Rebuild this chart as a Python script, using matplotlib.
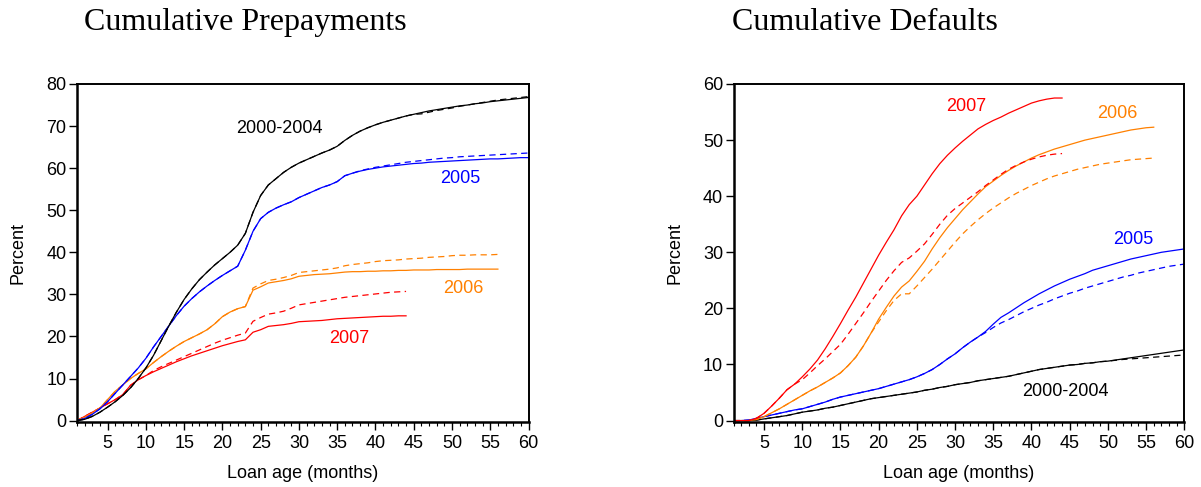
import matplotlib
matplotlib.use('Agg')
import matplotlib.pyplot as plt
import matplotlib.ticker as mticker
import numpy as np

months = np.arange(1, 61)

# ---- Cumulative prepayments (percent) ----
pre_0004 = [0.0, 0.3, 1.0, 2.0, 3.2, 4.5, 6.0, 7.8, 10.0, 12.5,
            15.5, 19.0, 22.5, 25.8, 28.8, 31.3, 33.5, 35.3, 37.0, 38.5,
            40.0, 41.7, 44.5, 49.5, 53.5, 56.0, 57.5, 59.0, 60.2, 61.2,
            62.0, 62.8, 63.6, 64.3, 65.2, 66.6, 67.8, 68.8, 69.6, 70.3,
            70.9, 71.4, 71.9, 72.4, 72.8, 73.2, 73.6, 73.9, 74.2, 74.5,
            74.8, 75.0, 75.3, 75.5, 75.8, 76.0, 76.2, 76.4, 76.6, 76.8]
pre_0004_d = pre_0004[:45] + [72.9, 73.3, 73.7, 74.0, 74.3, 74.7, 75.0,
                              75.3, 75.6, 75.9, 76.2, 76.4, 76.6, 76.8, 77.0]
pre_2005 = [0.0, 0.5, 1.5, 2.8, 4.5, 6.5, 8.5, 10.5, 12.5, 14.8,
            17.5, 20.0, 22.5, 25.0, 27.2, 29.0, 30.6, 32.0, 33.3, 34.5,
            35.6, 36.7, 40.5, 45.0, 48.0, 49.5, 50.5, 51.3, 52.0, 53.0,
            53.8, 54.6, 55.4, 56.0, 56.8, 58.2, 58.8, 59.3, 59.7, 60.0,
            60.3, 60.5, 60.7, 60.9, 61.1, 61.2, 61.4, 61.5, 61.6, 61.7,
            61.8, 61.9, 62.0, 62.1, 62.2, 62.2, 62.3, 62.4, 62.5, 62.5]
pre_2005_d = pre_2005[:37] + [59.4, 59.8, 60.2, 60.5, 60.8, 61.1, 61.4,
                              61.6, 61.8, 62.0, 62.2, 62.4, 62.5, 62.7, 62.8,
                              62.9, 63.0, 63.1, 63.2, 63.3, 63.4, 63.5, 63.6]
pre_2006 = [0.0, 0.8, 1.8, 3.0, 5.0, 7.0, 8.5, 10.0, 11.2, 12.3,
            13.8, 15.2, 16.5, 17.7, 18.8, 19.7, 20.6, 21.6, 23.0, 24.7,
            25.8, 26.6, 27.1, 31.0, 31.8, 32.7, 33.0, 33.3, 33.7, 34.3,
            34.5, 34.7, 34.8, 34.9, 35.1, 35.3, 35.4, 35.4, 35.5, 35.5,
            35.6, 35.6, 35.7, 35.7, 35.8, 35.8, 35.8, 35.9, 35.9, 35.9,
            35.9, 36.0, 36.0, 36.0, 36.0, 36.0]
pre_2006_d = pre_2006[:23] + [31.5, 32.5, 33.3, 33.6, 34.0, 34.5, 35.2,
                              35.4, 35.6, 35.8, 36.0, 36.3, 36.8, 37.1, 37.3,
                              37.5, 37.8, 38.0, 38.1, 38.2, 38.4, 38.5, 38.6,
                              38.8, 38.9, 39.0, 39.2, 39.3, 39.3, 39.4, 39.4,
                              39.4, 39.5]
pre_2007 = [0.0, 1.0, 2.0, 3.0, 4.0, 5.0, 6.2, 8.4, 9.7, 10.7,
            11.6, 12.4, 13.2, 14.0, 14.7, 15.4, 16.0, 16.6, 17.2, 17.8,
            18.3, 18.8, 19.2, 21.0, 21.6, 22.4, 22.6, 22.8, 23.1, 23.5,
            23.6, 23.7, 23.8, 24.0, 24.2, 24.3, 24.4, 24.5, 24.6, 24.7,
            24.8, 24.8, 24.9, 24.9]
pre_2007_d = pre_2007[:10] + [11.9, 12.8, 13.6, 14.4, 15.2, 16.0, 16.8,
                              17.6, 18.4, 19.1, 19.7, 20.3, 20.8, 23.6, 24.5,
                              25.3, 25.6, 26.0, 26.7, 27.5, 27.8, 28.1, 28.4,
                              28.7, 29.0, 29.3, 29.5, 29.7, 29.9, 30.1, 30.3,
                              30.5, 30.6, 30.7]

# ---- Cumulative defaults (percent) ----
def_0004 = [0.0, 0.0, 0.0, 0.1, 0.3, 0.5, 0.7, 0.9, 1.2, 1.5,
            1.7, 1.9, 2.2, 2.4, 2.7, 3.0, 3.3, 3.6, 3.9, 4.1,
            4.3, 4.5, 4.7, 4.9, 5.1, 5.4, 5.6, 5.9, 6.1, 6.4,
            6.6, 6.8, 7.1, 7.3, 7.5, 7.7, 7.9, 8.2, 8.5, 8.8,
            9.1, 9.3, 9.5, 9.7, 9.9, 10.0, 10.2, 10.3, 10.5, 10.6,
            10.8, 11.0, 11.2, 11.4, 11.6, 11.8, 12.0, 12.2, 12.4, 12.6]
def_0004_d = def_0004[:50] + [10.75, 10.9, 11.0, 11.1, 11.2, 11.3,
                              11.4, 11.5, 11.6, 11.7]
def_2005 = [0.0, 0.0, 0.1, 0.4, 0.7, 1.0, 1.3, 1.6, 1.9, 2.1,
            2.5, 2.9, 3.3, 3.8, 4.2, 4.5, 4.8, 5.1, 5.4, 5.7,
            6.1, 6.5, 6.9, 7.3, 7.8, 8.4, 9.1, 10.0, 11.0, 11.9,
            13.0, 14.0, 14.9, 15.9, 17.2, 18.4, 19.2, 20.1, 21.0, 21.8,
            22.6, 23.3, 24.0, 24.6, 25.2, 25.7, 26.2, 26.8, 27.2, 27.6,
            28.0, 28.4, 28.8, 29.1, 29.4, 29.7, 30.0, 30.2, 30.4, 30.6]
def_2005_d = def_2005[:33] + [15.7, 16.6, 17.4, 18.0, 18.7, 19.4, 20.0,
                              20.6, 21.1, 21.7, 22.2, 22.7, 23.1, 23.6, 24.0,
                              24.4, 24.8, 25.2, 25.6, 25.9, 26.3, 26.6, 26.9,
                              27.2, 27.5, 27.7, 27.9]
def_2006 = [0.0, 0.0, 0.0, 0.2, 0.7, 1.4, 2.1, 2.9, 3.7, 4.5,
            5.3, 6.0, 6.8, 7.6, 8.5, 9.8, 11.3, 13.3, 15.6, 18.1,
            20.2, 22.2, 23.8, 24.9, 26.6, 28.4, 30.6, 32.6, 34.4, 36.0,
            37.6, 39.0, 40.4, 41.7, 42.7, 43.7, 44.6, 45.4, 46.1, 46.8,
            47.4, 47.9, 48.4, 48.8, 49.2, 49.6, 50.0, 50.3, 50.6, 50.9,
            51.2, 51.5, 51.8, 52.0, 52.2, 52.3]
def_2006_d = def_2006[:19] + [17.6, 19.6, 21.4, 22.6, 22.6, 24.0, 25.5,
                              27.0, 28.6, 30.2, 31.8, 33.3, 34.6, 35.8, 36.9,
                              37.9, 38.8, 39.7, 40.5, 41.2, 41.9, 42.5, 43.1,
                              43.6, 44.0, 44.4, 44.8, 45.1, 45.4, 45.7, 45.9,
                              46.1, 46.3, 46.5, 46.6, 46.7, 46.8]
def_2007 = [0.0, 0.0, 0.0, 0.4, 1.3, 2.6, 4.0, 5.5, 6.5, 7.8,
            9.2, 10.8, 12.8, 15.0, 17.3, 19.7, 22.0, 24.5, 27.0, 29.5,
            31.8, 34.0, 36.5, 38.5, 40.0, 42.0, 44.0, 45.8, 47.3, 48.6,
            49.8, 50.9, 52.0, 52.8, 53.5, 54.1, 54.8, 55.4, 56.0, 56.6,
            57.0, 57.3, 57.5, 57.5]
def_2007_d = def_2007[:9] + [7.3, 8.5, 9.8, 11.0, 12.3, 13.6, 15.4, 17.3,
                             19.2, 21.2, 23.1, 25.0, 26.7, 28.2, 29.0, 30.2,
                             31.5, 33.2, 35.0, 36.6, 37.8, 38.8, 39.8, 40.8,
                             41.9, 42.9, 43.9, 44.8, 45.5, 46.1, 46.6, 47.0,
                             47.3, 47.5, 47.6]

c_black, c_blue, c_orange, c_red = '#000000', '#0000ff', '#ff8000', '#ff0000'

plt.rcParams['font.family'] = ['Liberation Sans', 'DejaVu Sans']
fs = 13

fig = plt.figure(figsize=(12.01, 4.87), dpi=100)
ax1 = fig.add_axes([77 / 1201, 65 / 487, 451.5 / 1201, 338 / 487])
ax2 = fig.add_axes([733.5 / 1201, 65 / 487, 450.8 / 1201, 338 / 487])


def draw(ax, pairs):
    for solid, dashed, col in pairs:
        ax.plot(months[:len(solid)], solid, color=col, lw=0.9)
        ln, = ax.plot(months[:len(dashed)], dashed, color=col, lw=0.9)
        ln.set_dashes((5, 3.5))


draw(ax1, [(pre_2007, pre_2007_d, c_red), (pre_2006, pre_2006_d, c_orange),
           (pre_2005, pre_2005_d, c_blue), (pre_0004, pre_0004_d, c_black)])
draw(ax2, [(def_0004, def_0004_d, c_black), (def_2005, def_2005_d, c_blue),
           (def_2006, def_2006_d, c_orange), (def_2007, def_2007_d, c_red)])

for ax, ytop, step in [(ax1, 80, 10), (ax2, 60, 10)]:
    ax.set_xlim(1, 60)
    ax.set_ylim(-0.25 * ytop / 60, ytop)
    ax.xaxis.set_major_locator(mticker.MultipleLocator(5))
    ax.xaxis.set_minor_locator(mticker.MultipleLocator(1))
    ax.yaxis.set_major_locator(mticker.MultipleLocator(step))
    ax.tick_params(axis='both', which='major', direction='out', length=5.5,
                   width=1.0, labelsize=fs, pad=2, top=False, right=False)
    ax.tick_params(axis='x', which='minor', direction='out', length=3,
                   width=0.8, top=False)
    ax.tick_params(axis='x', which='major', pad=4)
    for s in ['left', 'bottom']:
        ax.spines[s].set_linewidth(1.8)
    for s in ['top', 'right']:
        ax.spines[s].set_linewidth(1.4)
    ax.set_ylabel('Percent', fontsize=fs, labelpad=14)
    ax.set_xlabel('Loan age (months)', fontsize=fs, labelpad=9)

# series labels
ax1.text(27.4, 69.4, '2000-2004', color=c_black, fontsize=fs, ha='center', va='center')
ax1.text(51.1, 57.6, '2005', color=c_blue, fontsize=fs, ha='center', va='center')
ax1.text(51.5, 31.5, '2006', color=c_orange, fontsize=fs, ha='center', va='center')
ax1.text(36.6, 19.4, '2007', color=c_red, fontsize=fs, ha='center', va='center')
ax2.text(31.4, 56.0, '2007', color=c_red, fontsize=fs, ha='center', va='center')
ax2.text(51.2, 54.7, '2006', color=c_orange, fontsize=fs, ha='center', va='center')
ax2.text(53.3, 32.3, '2005', color=c_blue, fontsize=fs, ha='center', va='center')
ax2.text(44.4, 5.2, '2000-2004', color=c_black, fontsize=fs, ha='center', va='center')

fig.text(84 / 1201, 1 - 30 / 487, 'Cumulative Prepayments', family='Liberation Serif',
         fontsize=23, ha='left', va='baseline')
fig.text(732 / 1201, 1 - 30 / 487, 'Cumulative Defaults', family='Liberation Serif',
         fontsize=23, ha='left', va='baseline')

fig.savefig('out.png', dpi=100)
